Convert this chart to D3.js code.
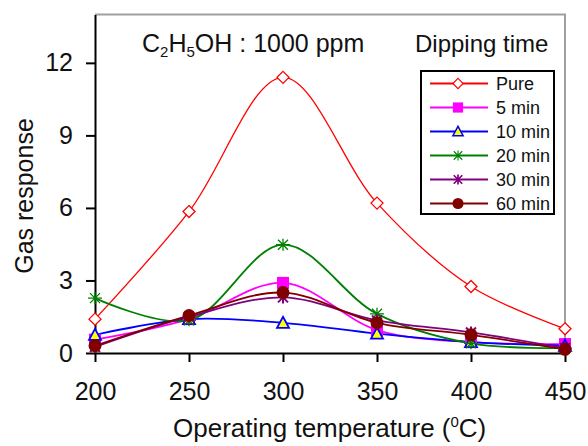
<!DOCTYPE html>
<html>
<head>
<meta charset="utf-8">
<script src="https://cdn.jsdelivr.net/npm/d3@7"></script>
<style>
  body { margin: 0; background: #fff; }
  text { font-family: "Liberation Sans", Arial, sans-serif; fill: #111; }
</style>
</head>
<body>
<svg id="chart" width="588" height="446"></svg>
<script>
// data
const temperatures = [200, 250, 300, 350, 400, 450];
const seriesNames = ["Pure", "5 min", "10 min", "20 min", "30 min", "60 min"];
const pure = [1.4, 5.85, 11.4, 6.2, 2.75, 1.0];
const min5 = [0.55, 1.4, 2.9, 0.95, 0.45, 0.37];
const min10 = [0.75, 1.4, 1.25, 0.8, 0.45, 0.3];
const min20 = [2.27, 1.35, 4.48, 1.62, 0.4, 0.2];
const min30 = [0.25, 1.5, 2.3, 1.35, 0.85, 0.2];
const min60 = [0.3, 1.55, 2.5, 1.25, 0.75, 0.15];
const yTicks = [0, 3, 6, 9, 12];

const colors = ["#ff0000", "#ff00ff", "#0000ff", "#008000", "#800080", "#800000"];
const markers = ["diamond", "square", "triangle", "asterisk", "cross", "circle"];
const allSeries = [pure, min5, min10, min20, min30, min60];

var svg = d3.select("#chart");
var x = d3.scaleLinear().domain([200, 450]).range([95, 565]);
var y = d3.scaleLinear().domain([0, 14]).range([353, 14.5]);

// plot frame: gray top/right
svg.append("path")
  .attr("d", `M${x(200)},${y(14)}H${x(450)}V${y(0)}`)
  .attr("fill", "none")
  .attr("stroke", "#a0a0a0")
  .attr("stroke-width", 2);

var xAxis = svg.append("g")
  .attr("transform", `translate(0,${y(0)})`)
  .call(d3.axisBottom(x).tickValues(temperatures).tickSize(9).tickPadding(20).tickSizeOuter(0));
var yAxis = svg.append("g")
  .attr("transform", `translate(${x(200)},0)`)
  .call(d3.axisLeft(y).tickValues(yTicks).tickSize(9).tickPadding(13).tickSizeOuter(0));
[xAxis, yAxis].forEach((g) => {
  g.select(".domain").attr("stroke", "#000").attr("stroke-width", 2);
  g.selectAll(".tick line").attr("stroke", "#000").attr("stroke-width", 2);
  g.selectAll(".tick text").style("font-size", "25px").attr("fill", "#111");
});

var line = d3.line()
  .x((d, i) => x(temperatures[i]))
  .y((d) => y(d))
  .curve(d3.curveCatmullRom.alpha(0.5));

function drawMarker(g, type, color) {
  if (type === "diamond") {
    g.append("path").attr("d", "M0,-6L6,0L0,6L-6,0Z")
      .attr("fill", "#fff").attr("stroke", color).attr("stroke-width", 1.3);
  } else if (type === "square") {
    g.append("rect").attr("x", -6).attr("y", -6).attr("width", 12).attr("height", 12)
      .attr("fill", color);
  } else if (type === "triangle") {
    g.append("path").attr("d", "M0,-6L6,5L-6,5Z")
      .attr("fill", "#ffff00").attr("stroke", color).attr("stroke-width", 1.8);
  } else if (type === "asterisk") {
    g.append("path").attr("d", "M-5,-5L5,5M-5,5L5,-5M0,-6V6M-7,0H7")
      .attr("stroke", color).attr("stroke-width", 1.3);
  } else if (type === "cross") {
    g.append("path").attr("d", "M-5,-5L5,5M-5,5L5,-5M0,-6V6")
      .attr("stroke", color).attr("stroke-width", 2);
  } else if (type === "circle") {
    g.append("circle").attr("r", 6.5).attr("fill", color);
  }
}

allSeries.forEach((vals, k) => {
  svg.append("path")
    .datum(vals)
    .attr("d", line)
    .attr("fill", "none")
    .attr("stroke", colors[k])
    .attr("stroke-width", k === 0 ? 1.3 : 1.8);
});
allSeries.forEach((vals, k) => {
  vals.forEach((v, i) => {
    var g = svg.append("g").attr("transform", `translate(${x(temperatures[i])},${y(v)})`);
    drawMarker(g, markers[k], colors[k]);
  });
});

// title text
var t = svg.append("text").attr("x", 142).attr("y", 52).style("font-size", "25px");
t.append("tspan").text("C");
t.append("tspan").text("2").style("font-size", "15px").attr("dy", 5);
t.append("tspan").text("H").attr("dy", -5);
t.append("tspan").text("5").style("font-size", "15px").attr("dy", 5);
t.append("tspan").text("OH : 1000 ppm").attr("dy", -5);

svg.append("text").attr("x", 415).attr("y", 52).style("font-size", "24px").text("Dipping time");

// legend
var legend = svg.append("g");
legend.append("rect").attr("x", 421).attr("y", 71).attr("width", 133).attr("height", 143)
  .attr("fill", "#fff").attr("stroke", "#000").attr("stroke-width", 2);
seriesNames.forEach((name, k) => {
  var ly = 83.5 + k * 24;
  legend.append("line").attr("x1", 430).attr("x2", 488).attr("y1", ly).attr("y2", ly)
    .attr("stroke", colors[k]).attr("stroke-width", 1.8);
  var g = legend.append("g").attr("transform", `translate(458,${ly}) scale(0.85)`);
  drawMarker(g, markers[k], colors[k]);
  legend.append("text").attr("x", 496).attr("y", ly + 6.5).style("font-size", "18px").text(name);
});

// axis titles
var xl = svg.append("text").attr("x", 173).attr("y", 437).style("font-size", "26px");
xl.append("tspan").text("Operating temperature (");
xl.append("tspan").text("0").style("font-size", "15px").attr("dy", -10);
xl.append("tspan").text("C)").attr("dy", 10);

svg.append("text")
  .attr("transform", "translate(33,196) rotate(-90)")
  .attr("text-anchor", "middle")
  .style("font-size", "25px")
  .text("Gas response");
</script>
</body>
</html>
